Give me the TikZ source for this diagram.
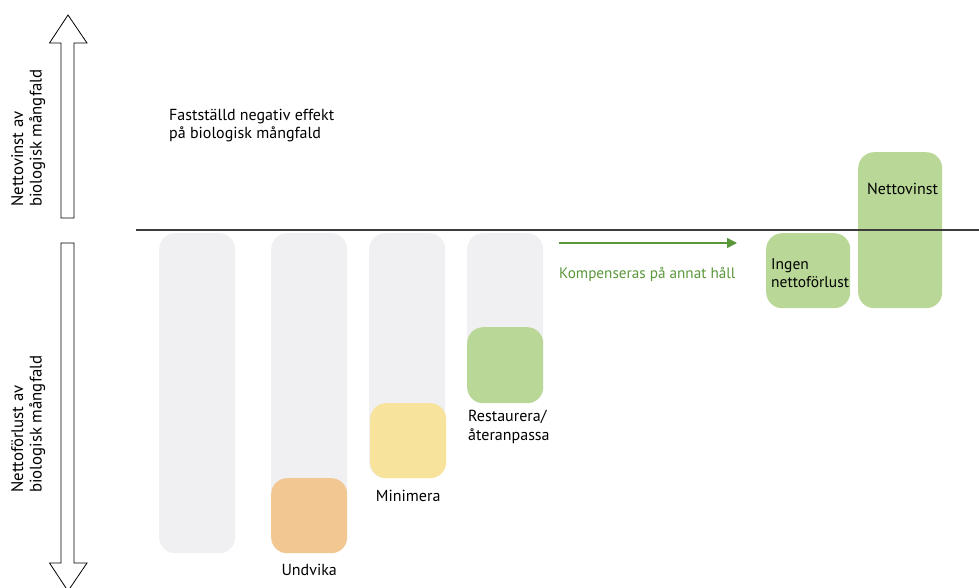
\documentclass[tikz,border=0pt]{standalone}
\usepackage{fontspec}
\setmainfont{PT Sans}
\usetikzlibrary{arrows.meta}
\definecolor{bargray}{HTML}{F0EFF1}
\definecolor{avoidorange}{HTML}{F3C792}
\definecolor{minyellow}{HTML}{F7E39C}
\definecolor{gaingreen}{HTML}{B9D797}
\definecolor{offsetgreen}{HTML}{5A963A}
\definecolor{axisgray}{HTML}{3C3C3C}

\begin{document}
\begin{tikzpicture}[
      x=1pt, y=1pt,
      every node/.style={font=\fontsize{16}{18.5}\selectfont, inner sep=0pt},
      bar/.style={fill=bargray, rounded corners=16pt, anchor=north west, minimum width=76pt},
      stepbox/.style={rounded corners=16pt, anchor=north west, minimum width=76pt, minimum height=75pt},
      label/.style={anchor=base west, align=left},
      sidelabel/.style={rotate=90, anchor=north west, align=left, font=\fontsize{16.8}{18.5}\selectfont},
      hollow/.style={draw=black, line width=0.8pt, fill=white}
    ]

    % fix the page to the size of the reference
    \useasboundingbox (0,0) rectangle (979,-588);

    % side arrows, drawn as outlined polygons
    \draw[hollow] (61,-218) -- (61,-43) -- (49.5,-43) -- (68,-15) -- (87,-43)
      -- (74,-43) -- (74,-218) -- cycle;
    \draw[hollow] (61,-243) -- (61,-563) -- (49.5,-563) -- (68,-591) -- (87,-563)
      -- (74,-563) -- (74,-243) -- cycle;

    % side texts
    \node[sidelabel] (gainlabel) at (11,-207) {Nettovinst av\\biologisk mångfald};
    \node[sidelabel] (losslabel) at (11,-493) {Nettoförlust av\\biologisk mångfald};

    % grey bars: the effect that is left after each step
    \node[bar, minimum height=320pt] (effectbar) at (159,-233) {};
    \node[bar, minimum height=320pt] (avoidbar) at (271,-233) {};
    \node[bar, minimum height=245pt] (minbar) at (369,-233) {};
    \node[bar, minimum height=170pt] (restbar) at (467,-233) {};

    % the steps of the hierarchy
    \node[stepbox, fill=avoidorange] (avoid) at (271,-478) {};
    \node[stepbox, fill=minyellow] (minimize) at (370,-403) {};
    \node[stepbox, fill=gaingreen, minimum height=76pt] (restore) at (467,-327) {};
    \node[stepbox, fill=gaingreen, minimum width=84pt] (nonetloss) at (766,-233) {};
    \node[stepbox, fill=gaingreen, minimum width=84pt, minimum height=156pt] (netgain) at (858,-152) {};

    % texts (base of a two-line label is its last line)
    \node[label] (effecttext) at (169,-139) {Fastställd negativ effekt\\på biologisk mångfald};
    \node[anchor=base] (avoidtext) at (avoid.south |- 0,-575) {Undvika};
    \node[anchor=base] (mintext) at (minimize.south |- 0,-501) {Minimera};
    \node[label] (resttext) at (468,-440) {Restaurera/\\återanpassa};
    \node[label, font=\fontsize{15.5}{17.5}\selectfont] (nonetlosstext) at (771,-287) {Ingen\\nettoförlust};
    \node[label] (netgaintext) at (867,-194) {Nettovinst};

    % offset elsewhere
    \coordinate (offsetstart) at (559,-243);
    \coordinate (offsetend) at (737,-243);
    \draw[offsetgreen, line width=1.4pt, -{Triangle[length=10pt,width=10pt]}] (offsetstart) -- (offsetend);
    \node[label, text=offsetgreen, font=\fontsize{15.2}{18}\selectfont] (offsettext) at (559,-278) {Kompenseras på annat håll};

    % zero line, on top of everything
    \coordinate (zeroleft) at (136,-230);
    \coordinate (zeroright) at (979,-230);
    \draw[axisgray, line width=1.5pt] (zeroleft) -- (zeroright);
\end{tikzpicture}
\end{document}
